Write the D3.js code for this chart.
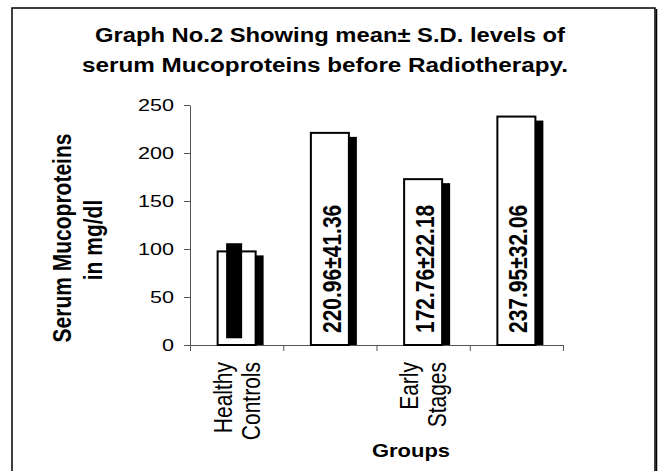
<!DOCTYPE html>
<html>
<head>
<meta charset="utf-8">
<script src="https://cdn.jsdelivr.net/npm/d3@7"></script>
<style>
body { margin: 0; background: #fff; }
text { font-family: Arial, "Liberation Sans", sans-serif; fill: #000; }
</style>
</head>
<body>
<div id="chart"></div>
<script>
// data
var tickLabels = [["Healthy", "Controls"], [], ["Early", "Stages"], []];
var means = [97.5, 220.96, 172.76, 237.95];
var barLabels = ["", "220.96±41.36", "172.76±22.18", "237.95±32.06"];
var hcBox = [7, 106];   // black label box on the healthy controls bar
var yTicks = [0, 50, 100, 150, 200, 250];
var titleLines = ["Graph No.2 Showing mean± S.D. levels of", "serum Mucoproteins before Radiotherapy."];

const width = 661, height = 471;
const sx = 1.27;   // the original picture is stretched sideways
const rs = 1.2;    // same stretch for the rotated texts
const bw = 38;

var svg = d3.select("#chart").append("svg")
  .attr("width", width)
  .attr("height", height);

// chart area frame
svg.append("rect")
  .attr("x", 12).attr("y", 8)
  .attr("width", 643).attr("height", 480)
  .style("fill", "white")
  .style("stroke", "black")
  .style("stroke-width", 1.5);
svg.append("line")
  .attr("x1", 656.5).attr("y1", 9).attr("x2", 656.5).attr("y2", height)
  .style("stroke", "black").style("stroke-width", 1.5);

var y = d3.scaleLinear().domain([0, 250]).range([345, 105]);
var x = d3.scaleBand().domain(d3.range(means.length)).range([190, 563]);
var xb = d3.scaleLinear().domain([0, means.length]).range([190, 563]);

// title
svg.selectAll(".title").data(titleLines).enter().append("text")
  .attr("class", "title")
  .attr("x", function(d, i) { return i == 0 ? 330 : 325; })
  .attr("y", function(d, i) { return 42 + i * 30; })
  .attr("text-anchor", "middle")
  .attr("textLength", function(d, i) { return i == 0 ? 470 : 486; })
  .attr("lengthAdjust", "spacingAndGlyphs")
  .style("font-size", "20px")
  .style("font-weight", "bold")
  .text(function(d) { return d; });

// y axis
var yAxis = svg.append("g")
  .attr("transform", "translate(190,0)")
  .call(d3.axisLeft(y).tickValues(yTicks).tickSize(6).tickPadding(10).tickSizeOuter(0));
yAxis.selectAll("path, line").style("stroke", "#555");
yAxis.selectAll("text")
  .style("font-size", "17px")
  .style("font-family", "Arial, 'Liberation Sans', sans-serif")
  .attr("textLength", function() { return this.getComputedTextLength() * sx; })
  .attr("lengthAdjust", "spacingAndGlyphs");

// x axis (ticks between groups)
var xAxis = svg.append("g")
  .attr("transform", "translate(0,345)")
  .call(d3.axisBottom(xb).tickValues(d3.range(means.length + 1)).tickFormat("").tickSize(6).tickSizeOuter(0));
xAxis.selectAll("path, line").style("stroke", "#555");

// shadows
svg.selectAll(".shadow").data(means).enter().append("rect")
  .attr("class", "shadow")
  .attr("x", function(d, i) { return x(i) + (x.bandwidth() - bw) / 2 + 8; })
  .attr("y", function(d) { return y(d) + 4; })
  .attr("width", bw)
  .attr("height", function(d) { return y(0) - y(d) - 4; })
  .style("fill", "black");

// bars
svg.selectAll(".bar").data(means).enter().append("rect")
  .attr("class", "bar")
  .attr("x", function(d, i) { return x(i) + (x.bandwidth() - bw) / 2; })
  .attr("y", function(d) { return y(d); })
  .attr("width", bw)
  .attr("height", function(d) { return y(0) - y(d); })
  .style("fill", "white")
  .style("stroke", "black")
  .style("stroke-width", 2);

// black label box on healthy controls
svg.append("rect")
  .attr("x", x(0) + x.bandwidth() / 2 - 10.5)
  .attr("y", y(hcBox[1]))
  .attr("width", 16)
  .attr("height", y(hcBox[0]) - y(hcBox[1]))
  .style("fill", "black");

// value labels inside bars
svg.selectAll(".vlab").data(barLabels).enter().append("text")
  .attr("class", "vlab")
  .attr("transform", function(d, i) {
    return "translate(" + (x(i) + x.bandwidth() / 2 + 2) + "," + (y(0) - 12) + ") scale(" + rs + ",1) rotate(-90)";
  })
  .attr("dy", "0.36em")
  .attr("text-anchor", "start")
  .style("font-size", "21px")
  .style("font-weight", "bold")
  .text(function(d) { return d; });

// category labels
tickLabels.forEach(function(lines, i) {
  lines.forEach(function(t, j) {
    svg.append("text")
      .attr("transform", "translate(" + (x(i) + x.bandwidth() / 2 + (j - 0.5) * 28) + ",362) scale(" + rs + ",1) rotate(-90)")
      .attr("dy", "0.36em")
      .attr("text-anchor", "end")
      .style("font-size", "21px")
      .text(t);
  });
});

// axis titles
svg.append("text")
  .attr("x", 411).attr("y", 457)
  .attr("text-anchor", "middle")
  .attr("textLength", 78)
  .attr("lengthAdjust", "spacingAndGlyphs")
  .style("font-size", "18px")
  .style("font-weight", "bold")
  .text("Groups");

[["Serum Mucoproteins", 62, 238], ["in mg/dl", 93, 240]].forEach(function(l) {
  svg.append("text")
    .attr("transform", "translate(" + l[1] + "," + l[2] + ") scale(" + rs + ",1) rotate(-90)")
    .attr("dy", "0.36em")
    .attr("text-anchor", "middle")
    .style("font-size", "21px")
    .style("font-weight", "bold")
    .text(l[0]);
});
</script>
</body>
</html>
